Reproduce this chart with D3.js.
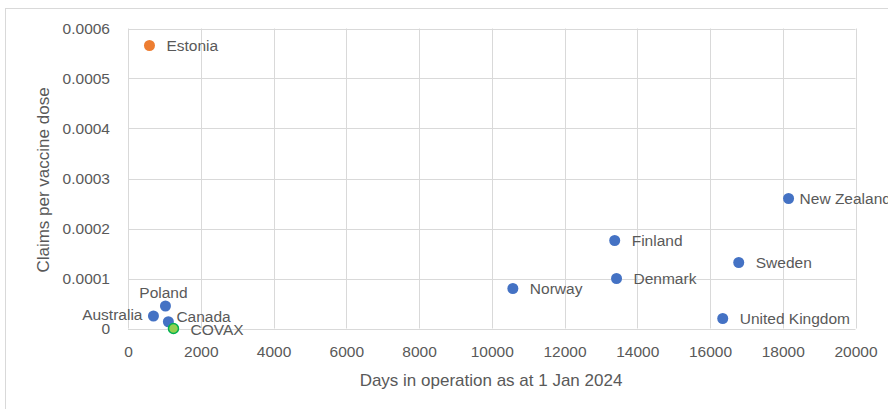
<!DOCTYPE html>
<html>
<head>
<meta charset="utf-8">
<script src="https://cdn.jsdelivr.net/npm/d3@7"></script>
<style>
  body { margin: 0; background: #fff; }
  svg text { font-family: "Liberation Sans", Arial, sans-serif; fill: #595959; }
</style>
</head>
<body>
<svg id="chart"></svg>
<script>
// data
var countries = ["Estonia", "Poland", "Australia", "Canada", "COVAX", "Norway", "Finland", "Denmark", "Sweden", "United Kingdom", "New Zealand"];
var daysInOperation = [590, 1030, 700, 1110, 1250, 10580, 13380, 13430, 16790, 16350, 18160];
var claimsPerDose = [0.000566, 0.000045, 0.000025, 0.0000135, 0, 0.00008, 0.000176, 0.0001, 0.000132, 0.00002, 0.00026];
var pointGroup = ["orange", "blue", "blue", "blue", "green", "blue", "blue", "blue", "blue", "blue", "blue"];
var labelSide = ["right", "above", "left", "rightUp", "rightDown", "right", "right", "right", "right", "right", "rightNear"];
var xTicks = [0, 2000, 4000, 6000, 8000, 10000, 12000, 14000, 16000, 18000, 20000];
var yTicks = [0, 0.0001, 0.0002, 0.0003, 0.0004, 0.0005, 0.0006];

var iWidth = 888, iHeight = 409;
var oMargin = { top: 28.5, right: 32.5, bottom: 80.5, left: 128 };

var oFill = { blue: "#4472c4", orange: "#ed7d31", green: "#92d050" };
var oStroke = { blue: "none", orange: "none", green: "#00b050" };

var oSvg = d3.select("#chart")
  .attr("width", iWidth)
  .attr("height", iHeight);

// outer chart border
oSvg.append("rect")
  .attr("x", 5.5).attr("y", 8.5)
  .attr("width", 920).attr("height", 440)
  .attr("fill", "none")
  .attr("stroke", "#d9d9d9");

var oScaleX = d3.scaleLinear()
  .domain([0, 20000])
  .range([oMargin.left, iWidth - oMargin.right]);

var oScaleY = d3.scaleLinear()
  .domain([0, 0.0006])
  .range([iHeight - oMargin.bottom, oMargin.top]);

// gridlines
var oGrid = oSvg.append("g").attr("stroke", "#d9d9d9").attr("stroke-width", 1);
oGrid.selectAll("line.v").data(xTicks).enter().append("line")
  .attr("x1", function (d) { return Math.round(oScaleX(d)) + 0.5; })
  .attr("x2", function (d) { return Math.round(oScaleX(d)) + 0.5; })
  .attr("y1", oScaleY(0.0006)).attr("y2", oScaleY(0));
oGrid.selectAll("line.h").data(yTicks).enter().append("line")
  .attr("y1", function (d) { return Math.round(oScaleY(d)) + 0.5; })
  .attr("y2", function (d) { return Math.round(oScaleY(d)) + 0.5; })
  .attr("x1", oScaleX(0)).attr("x2", oScaleX(20000));

// axes (text only, lines come from the grid)
var oXAxis = oSvg.append("g")
  .attr("transform", "translate(0," + oScaleY(0) + ")")
  .call(d3.axisBottom(oScaleX).tickValues(xTicks).tickSize(0).tickPadding(17).tickFormat(d3.format("d")));
oXAxis.select(".domain").remove();
oXAxis.selectAll("text").attr("font-size", "15.5px").attr("font-family", null);

var oYAxis = oSvg.append("g")
  .attr("transform", "translate(" + oScaleX(0) + ",0)")
  .call(d3.axisLeft(oScaleY).tickValues(yTicks).tickSize(0).tickPadding(18)
    .tickFormat(function (d) { return d === 0 ? "0" : d.toFixed(4); }));
oYAxis.select(".domain").remove();
oYAxis.selectAll("text").attr("font-size", "15.5px").attr("font-family", null);

// axis titles
oSvg.append("text")
  .attr("x", 491).attr("y", 386)
  .attr("text-anchor", "middle")
  .attr("font-size", "17px")
  .text("Days in operation as at 1 Jan 2024");

oSvg.append("text")
  .attr("transform", "translate(49,180) rotate(-90)")
  .attr("text-anchor", "middle")
  .attr("font-size", "17px")
  .text("Claims per vaccine dose");

var aData = countries.map(function (c, i) {
  return { name: c, x: daysInOperation[i], y: claimsPerDose[i], group: pointGroup[i], side: labelSide[i] };
});

// points
oSvg.append("g").selectAll("circle")
  .data(aData)
  .enter().append("circle")
  .attr("cx", function (d) { return oScaleX(d.x); })
  .attr("cy", function (d) { return oScaleY(d.y); })
  .attr("r", function (d) { return d.group === "green" ? 5 : 5.5; })
  .attr("fill", function (d) { return oFill[d.group]; })
  .attr("stroke", function (d) { return oStroke[d.group]; })
  .attr("stroke-width", 1.5);

// data labels
var oLabelPos = {
  right: { dx: 17, dy: 0, anchor: "start" },
  rightNear: { dx: 11, dy: 0, anchor: "start" },
  left: { dx: -11, dy: -1.5, anchor: "end" },
  above: { dx: -2, dy: -13, anchor: "middle" },
  rightUp: { dx: 8, dy: -5, anchor: "start" },
  rightDown: { dx: 17, dy: 1.5, anchor: "start" }
};

oSvg.append("g").selectAll("text")
  .data(aData)
  .enter().append("text")
  .attr("x", function (d) { return oScaleX(d.x) + oLabelPos[d.side].dx; })
  .attr("y", function (d) { return oScaleY(d.y) + oLabelPos[d.side].dy; })
  .attr("dy", "0.35em")
  .attr("text-anchor", function (d) { return oLabelPos[d.side].anchor; })
  .attr("font-size", "15.5px")
  .text(function (d) { return d.name; });
</script>
</body>
</html>
